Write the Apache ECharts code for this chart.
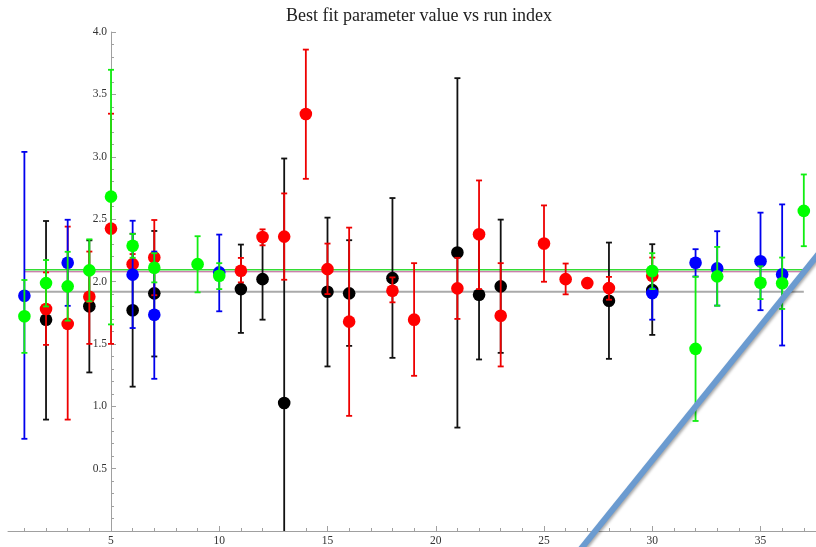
<!DOCTYPE html>
<html><head><meta charset="utf-8">
<script src="https://cdn.jsdelivr.net/npm/echarts@6/dist/echarts.min.js"></script>
<style>html,body{margin:0;padding:0;background:#fff}#c{width:816px;height:547px}</style>
</head><body><div id="c"></div>
<script>
const titleText = 'Best fit parameter value vs run index';
const xLabelTicks = [5, 10, 15, 20, 25, 30, 35];
const xMinorTicks = [1,2,3,4,5,6,7,8,9,10,11,12,13,14,15,16,17,18,19,20,21,22,23,24,25,26,27,28,29,30,31,32,33,34,35,36,37];
const yLabelTicks = [0.5, 1.0, 1.5, 2.0, 2.5, 3.0, 3.5, 4.0];

// black runs
const blackX    = [2, 4, 6, 7, 11, 12, 13, 15, 16, 18, 21, 22, 23, 28, 30];
const blackY    = [1.694, 1.801, 1.770, 1.905, 1.939, 2.019, 1.026, 1.918, 1.905, 2.027, 2.232, 1.894, 1.961, 1.846, 1.931];
const blackLow  = [0.893, 1.271, 1.157, 1.399, 1.588, 1.694, -0.934, 1.319, 1.484, 1.388, 0.829, 1.375, 1.428, 1.380, 1.572];
const blackHigh = [2.485, 2.330, 2.383, 2.405, 2.296, 2.344, 2.986, 2.512, 2.331, 2.669, 3.630, 2.413, 2.496, 2.312, 2.299];

// red runs
const redX    = [2, 3, 4, 5, 6, 7, 11, 12, 13, 14, 15, 16, 18, 19, 21, 22, 23, 25, 26, 27, 28, 30];
const redY    = [1.780, 1.660, 1.878, 2.424, 2.139, 2.192, 2.086, 2.357, 2.360, 3.343, 2.099, 1.678, 1.926, 1.694, 1.945, 2.379, 1.726, 2.304, 2.019, 1.987, 1.947, 2.046];
const redLow  = [1.492, 0.893, 1.500, 1.500, 2.060, 1.890, 1.993, 2.290, 2.014, 2.823, 1.899, 0.923, 1.833, 1.244, 1.700, 1.939, 1.319, 1.998, 1.897, 1.965, 1.854, 1.900];
const redHigh = [2.073, 2.440, 2.240, 3.345, 2.220, 2.493, 2.189, 2.418, 2.706, 3.859, 2.304, 2.432, 2.033, 2.147, 2.190, 2.810, 2.147, 2.610, 2.144, 2.015, 2.037, 2.192];

// blue runs
const blueX    = [1, 3, 6, 7, 10, 30, 32, 33, 35, 36];
const blueY    = [1.886, 2.150, 2.055, 1.734, 2.073, 1.907, 2.150, 2.105, 2.162, 2.057];
const blueLow  = [0.739, 1.805, 1.627, 1.220, 1.761, 1.694, 2.040, 1.807, 1.770, 1.487];
const blueHigh = [3.039, 2.495, 2.487, 2.240, 2.376, 2.120, 2.259, 2.403, 2.552, 2.618];

// green runs
const greenX    = [1, 2, 3, 4, 5, 6, 7, 9, 10, 30, 32, 33, 35, 36, 37];
const greenY    = [1.721, 1.987, 1.961, 2.089, 2.680, 2.287, 2.110, 2.139, 2.046, 2.084, 1.460, 2.041, 1.990, 1.986, 2.566];
const greenLow  = [1.428, 1.800, 1.686, 1.841, 1.656, 2.190, 1.993, 1.913, 1.939, 1.939, 0.882, 1.806, 1.859, 1.780, 2.283];
const greenHigh = [2.012, 2.172, 2.238, 2.338, 3.697, 2.381, 2.227, 2.363, 2.147, 2.227, 2.038, 2.277, 2.122, 2.192, 2.858];

// horizontal fit levels
const fitLevels = [1.918, 2.078, 2.094];
const fitColors = ['#aaaaaa', '#b85590', '#33dd33'];
const fitWidths = [2.2, 1, 1.5];
const fitRangeX = [1, 37];

// diagonal stroke
const diagX = [26.6, 37.9];
const diagY = [-0.166, 2.269];

function rows(xs, ys, lo, hi) { return xs.map((x, i) => [x, ys[i], lo[i], hi[i]]); }

function errRender(color, barColor) {
  return function (params, api) {
    const x = api.value(0), v = api.value(1), lo = api.value(2), hi = api.value(3);
    const pLo = api.coord([x, lo]), pHi = api.coord([x, hi]), pV = api.coord([x, v]);
    const cw = 3, lw = 1.8;
    return {
      type: 'group', children: [
        { type: 'line', shape: { x1: pLo[0], y1: pLo[1], x2: pHi[0], y2: pHi[1] }, style: { stroke: barColor, lineWidth: lw } },
        { type: 'line', shape: { x1: pLo[0] - cw, y1: pLo[1], x2: pLo[0] + cw, y2: pLo[1] }, style: { stroke: barColor, lineWidth: lw } },
        { type: 'line', shape: { x1: pHi[0] - cw, y1: pHi[1], x2: pHi[0] + cw, y2: pHi[1] }, style: { stroke: barColor, lineWidth: lw } },
        { type: 'circle', shape: { cx: pV[0], cy: pV[1], r: 6.3 }, style: { fill: color } }
      ]
    };
  };
}

const seriesDefs = [
  ['black', '#000000', '#111111', rows(blackX, blackY, blackLow, blackHigh)],
  ['red', '#ff0000', '#ee0000', rows(redX, redY, redLow, redHigh)],
  ['blue', '#0000ff', '#0000ee', rows(blueX, blueY, blueLow, blueHigh)],
  ['green', '#00ff00', '#11ee11', rows(greenX, greenY, greenLow, greenHigh)]
];

const series = [];
fitLevels.forEach((lv, i) => {
  series.push({
    type: 'line', xAxisIndex: 0, yAxisIndex: 0, symbol: 'none', silent: true, z: 1,
    data: [[fitRangeX[0], lv], [fitRangeX[1], lv]],
    lineStyle: { color: fitColors[i], width: fitWidths[i] }
  });
});
seriesDefs.forEach(([name, c, bc, data], i) => {
  series.push({
    type: 'custom', name: name, xAxisIndex: 0, yAxisIndex: 0, clip: true, z: 2 + i,
    renderItem: errRender(c, bc), data: data, encode: { x: 0, y: [1, 2, 3] }
  });
});
series.push({
  type: 'line', xAxisIndex: 0, yAxisIndex: 0, symbol: 'none', clip: false, silent: true, z: 10,
  data: diagX.map((x, i) => [x, diagY[i]]),
  lineStyle: { color: '#6b9bd0', width: 6, shadowColor: 'rgba(0,0,0,0.35)', shadowBlur: 3, shadowOffsetX: 1, shadowOffsetY: 2 }
});

const serif = 'Liberation Serif';
const axisGray = '#a0a0a0';
const chart = echarts.init(document.getElementById('c'), null, { renderer: 'canvas' });
chart.setOption({
  animation: false,
  backgroundColor: '#ffffff',
  title: { text: titleText, left: 414, textAlign: 'center', top: 2,
    textStyle: { fontFamily: serif, fontSize: 18, fontWeight: 'normal', color: '#222' } },
  grid: { left: 8, right: 0, top: 32, bottom: 14, containLabel: false },
  xAxis: [
    { type: 'value', min: 0.243, max: 37.563, position: 'bottom',
      axisLine: { show: true, onZero: false, lineStyle: { color: axisGray, width: 1 } },
      axisTick: { show: true, inside: true, length: 5, customValues: xLabelTicks, lineStyle: { color: axisGray } },
      axisLabel: { show: true, customValues: xLabelTicks, fontFamily: serif, fontSize: 11.5, color: '#333', margin: 4 },
      splitLine: { show: false } },
    { type: 'value', min: 0.243, max: 37.563, position: 'bottom',
      axisLine: { show: false, onZero: false },
      axisTick: { show: true, inside: true, length: 3, customValues: xMinorTicks, lineStyle: { color: axisGray } },
      axisLabel: { show: false },
      splitLine: { show: false } }
  ],
  yAxis: { type: 'value', min: 0, max: 4, interval: 0.5, position: 'left', offset: -103,
    axisLine: { show: true, onZero: false, lineStyle: { color: axisGray, width: 1 } },
    axisTick: { show: true, inside: true, length: 5, lineStyle: { color: axisGray } },
    minorTick: { show: true, splitNumber: 5, length: 3, lineStyle: { color: axisGray } },
    axisLabel: { show: true, customValues: yLabelTicks, formatter: v => Number(v).toFixed(1), fontFamily: serif, fontSize: 11.5, color: '#333', margin: 4 },
    splitLine: { show: false } },
  series: series
});
</script></body></html>
